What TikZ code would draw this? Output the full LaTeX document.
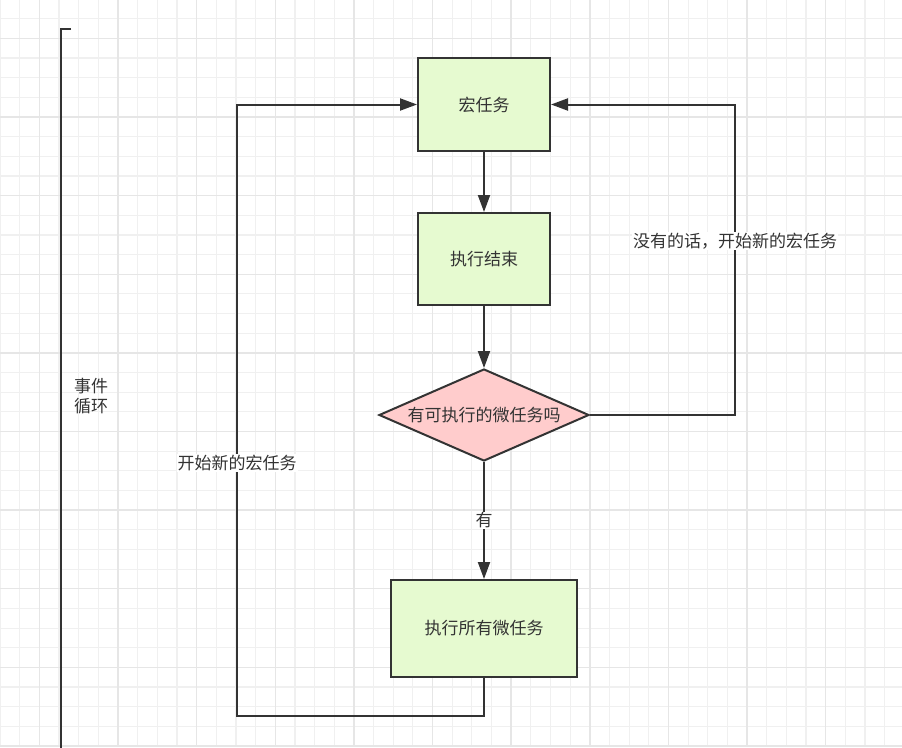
\documentclass[tikz,border=0pt]{standalone}
\usepackage{fontspec}
\setmainfont{Noto Sans CJK SC}
\usetikzlibrary{shapes.geometric,arrows.meta}
\definecolor{ink}{HTML}{333333}
\definecolor{boxgreen}{HTML}{E6FAD0}
\definecolor{diapink}{HTML}{FFCCCC}
\definecolor{gridminor}{HTML}{F0F0F0}
\definecolor{gridmajor}{HTML}{E6E6E6}
\tikzset{
  every node/.style={font=\fontsize{17}{20}\selectfont, text=ink},
  procbox/.style={draw=ink, line width=2pt, fill=boxgreen, inner sep=0pt},
  decide/.style={diamond, draw=ink, line width=2pt, fill=diapink, inner sep=0pt, aspect=2.28},
  flow/.style={draw=ink, line width=2pt, -{Triangle[width=12pt,length=17pt]}},
  plainline/.style={draw=ink, line width=2pt},
  lbl/.style={fill=white, inner sep=1pt},
  gminor/.style={gridminor, line width=1.2pt},
  gmajor/.style={gridmajor, line width=1.4pt}
}
\begin{document}
\begin{tikzpicture}[x=1pt,y=-1pt]
\useasboundingbox (0,0) rectangle (902,747);
\fill[white] (0,0) rectangle (902,747);
% grid
\foreach \i in {0,...,46} {\draw[gminor] ({\i*19.66},0) -- ({\i*19.66},747);}
\foreach \j in {0,...,39} {\draw[gminor] (0,{-1.02+\j*19.66}) -- (902,{-1.02+\j*19.66});}
\foreach \i in {2,6,...,46} {\draw[gmajor] ({\i*19.66},0) -- ({\i*19.66},747);}
\foreach \j in {2,6,...,38} {\draw[gmajor] (0,{-1.02+\j*19.66}) -- (902,{-1.02+\j*19.66});}

% nodes
\node[procbox, minimum width=132pt, minimum height=93pt] (macro) at (484,104.5) {宏任务};
\node[procbox, minimum width=132pt, minimum height=92pt] (done) at (484,259) {执行结束};
\node[decide, minimum width=210pt, minimum height=92pt] (ask) at (484,415) {有可执行的微任务吗};
\node[procbox, minimum width=186pt, minimum height=97pt] (runall) at (484,628.5) {执行所有微任务};

\coordinate (lb) at (237,716);
\coordinate (rt) at (735,104.5);

% connectors
\draw[flow] (macro.south) -- (done.north);
\draw[flow] (done.south) -- (ask.north);
\draw[flow] (ask.south) -- node[lbl] (yes) {有} (runall.north);
\draw[flow] (runall.south) |- (lb) |- node[lbl, pos=0.207] (newmacro) {开始新的宏任务} (macro.west);
\draw[flow] (ask.east) -| node[lbl, pos=0.78] (nomicro) {没有的话，开始新的宏任务} (rt) -- (macro.east);

% event loop bracket
\coordinate (bt) at (71,29);
\coordinate (bb) at (61,750);
\draw[plainline] (bt) -- (61,29) -- (bb);
\node[anchor=north west, align=left, inner sep=0pt, font=\fontsize{17}{20.5}\selectfont] (loop) at (74,378) {事件\\循环};
\end{tikzpicture}
\end{document}
